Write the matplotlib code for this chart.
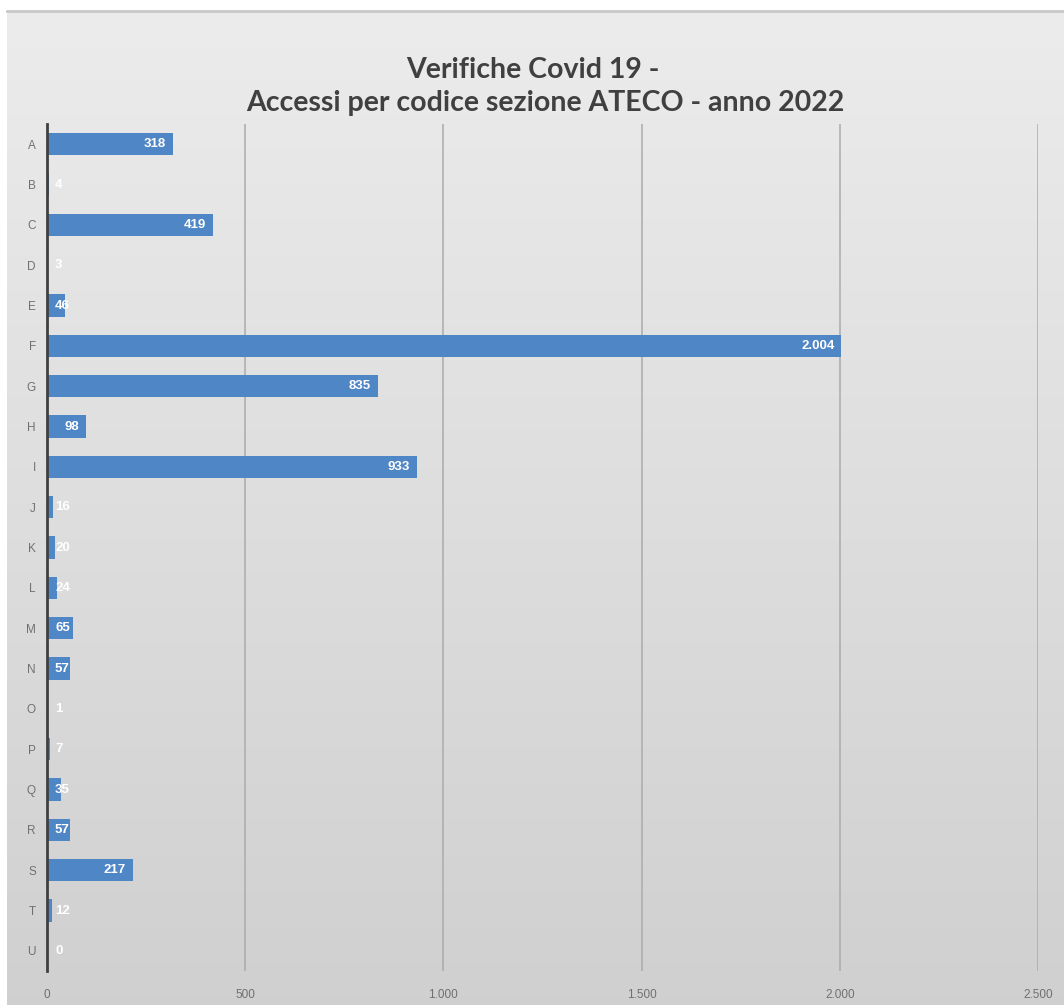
import numpy as np
import matplotlib
matplotlib.use("Agg")
import matplotlib.pyplot as plt
from matplotlib.ticker import FixedLocator, FuncFormatter
import matplotlib.transforms as mtrans

categories = ["A", "B", "C", "D", "E", "F", "G", "H", "I", "J", "K",
              "L", "M", "N", "O", "P", "Q", "R", "S", "T", "U"]
values = [318, 4, 419, 3, 46, 2004, 835, 98, 933, 16, 20,
          24, 65, 57, 1, 7, 35, 57, 217, 12, 0]
xticks = [0, 500, 1000, 1500, 2000, 2500]
title_line1 = "Verifiche Covid 19 -"
title_line2 = "Accessi per codice sezione ATECO - anno 2022"

W, H = 1064, 1005
fig = plt.figure(figsize=(W / 100, H / 100), dpi=100)
fig.patch.set_facecolor("white")

# gradient panel background
bg = fig.add_axes([7 / W, 0, 1 - 7 / W, 1 - 11 / H])
grad = np.linspace(0, 1, 256).reshape(-1, 1)
top_c = np.array([0.925, 0.925, 0.925])
bot_c = np.array([0.815, 0.815, 0.815])
img = top_c[None, :] + (bot_c - top_c)[None, :] * grad  # (256, 3)
img = np.tile(img[:, None, :], (1, 2, 1))
bg.imshow(img, aspect="auto", extent=[0, 1, 0, 1], origin="upper")
bg.set_xlim(0, 1)
bg.set_ylim(0, 1)
bg.axis("off")
bg.plot([0, 1], [1, 1], color="#c8c8c8", lw=2, transform=bg.transAxes, clip_on=False)
bg.set_zorder(-5)

left = 47 / W
right = 1038 / W
bottom = 1 - 971 / H
top = 1 - 124 / H
ax = fig.add_axes([left, bottom, right - left, top - bottom])
ax.set_facecolor("none")

y = np.arange(len(categories))
bar_color = "#4f86c6"
ax.barh(y, values, height=0.55, color=bar_color, zorder=3)
ax.set_ylim(len(categories) - 0.5, -0.5)
ax.set_xlim(0, 2500)

ax.xaxis.set_major_locator(FixedLocator(xticks))
ax.xaxis.set_major_formatter(FuncFormatter(lambda v, p: f"{int(v):,}".replace(",", ".")))
ax.set_yticks(y)
ax.set_yticklabels(categories)
ax.tick_params(axis="both", length=0, labelsize=8.5, colors="#707070")
ax.tick_params(axis="y", pad=8)
ax.tick_params(axis="x", pad=13)
for lab in ax.get_xticklabels() + ax.get_yticklabels():
    lab.set_fontfamily("Liberation Sans")

ax.grid(axis="x", color="#ababab", lw=1.1, zorder=1)
ax.grid(axis="y", visible=False)
for s in ["top", "right", "bottom"]:
    ax.spines[s].set_visible(False)
ax.spines["left"].set_color("#404040")
ax.spines["left"].set_linewidth(2)
ax.spines["left"].set_zorder(4)

px_per_unit = (1038 - 47) / 2500.0
for yi, v in zip(y, values):
    txt = f"{v:,}".replace(",", ".")
    label_px = 8 * len(txt) + 14
    if v * px_per_unit > label_px:
        off = mtrans.offset_copy(ax.transData, fig=fig, x=-7, y=0, units="dots")
        ax.text(v, yi, txt, transform=off, ha="right", va="center",
                color="white", fontsize=9.5, fontweight="bold", zorder=5,
                fontfamily="Liberation Sans")
    else:
        off = mtrans.offset_copy(ax.transData, fig=fig, x=8, y=0, units="dots")
        ax.text(0, yi, txt, transform=off, ha="left", va="center",
                color="white", fontsize=9.5, fontweight="bold", zorder=5,
                fontfamily="Liberation Sans")

fig.text(533 / W, 1 - 70 / H, title_line1, ha="center", va="center",
         fontsize=20.5, fontweight="bold", color="#404040", fontfamily="Lato")
fig.text(545 / W, 1 - 103 / H, title_line2, ha="center", va="center",
         fontsize=20.5, fontweight="bold", color="#404040", fontfamily="Lato")

fig.savefig("out.png", dpi=100)
